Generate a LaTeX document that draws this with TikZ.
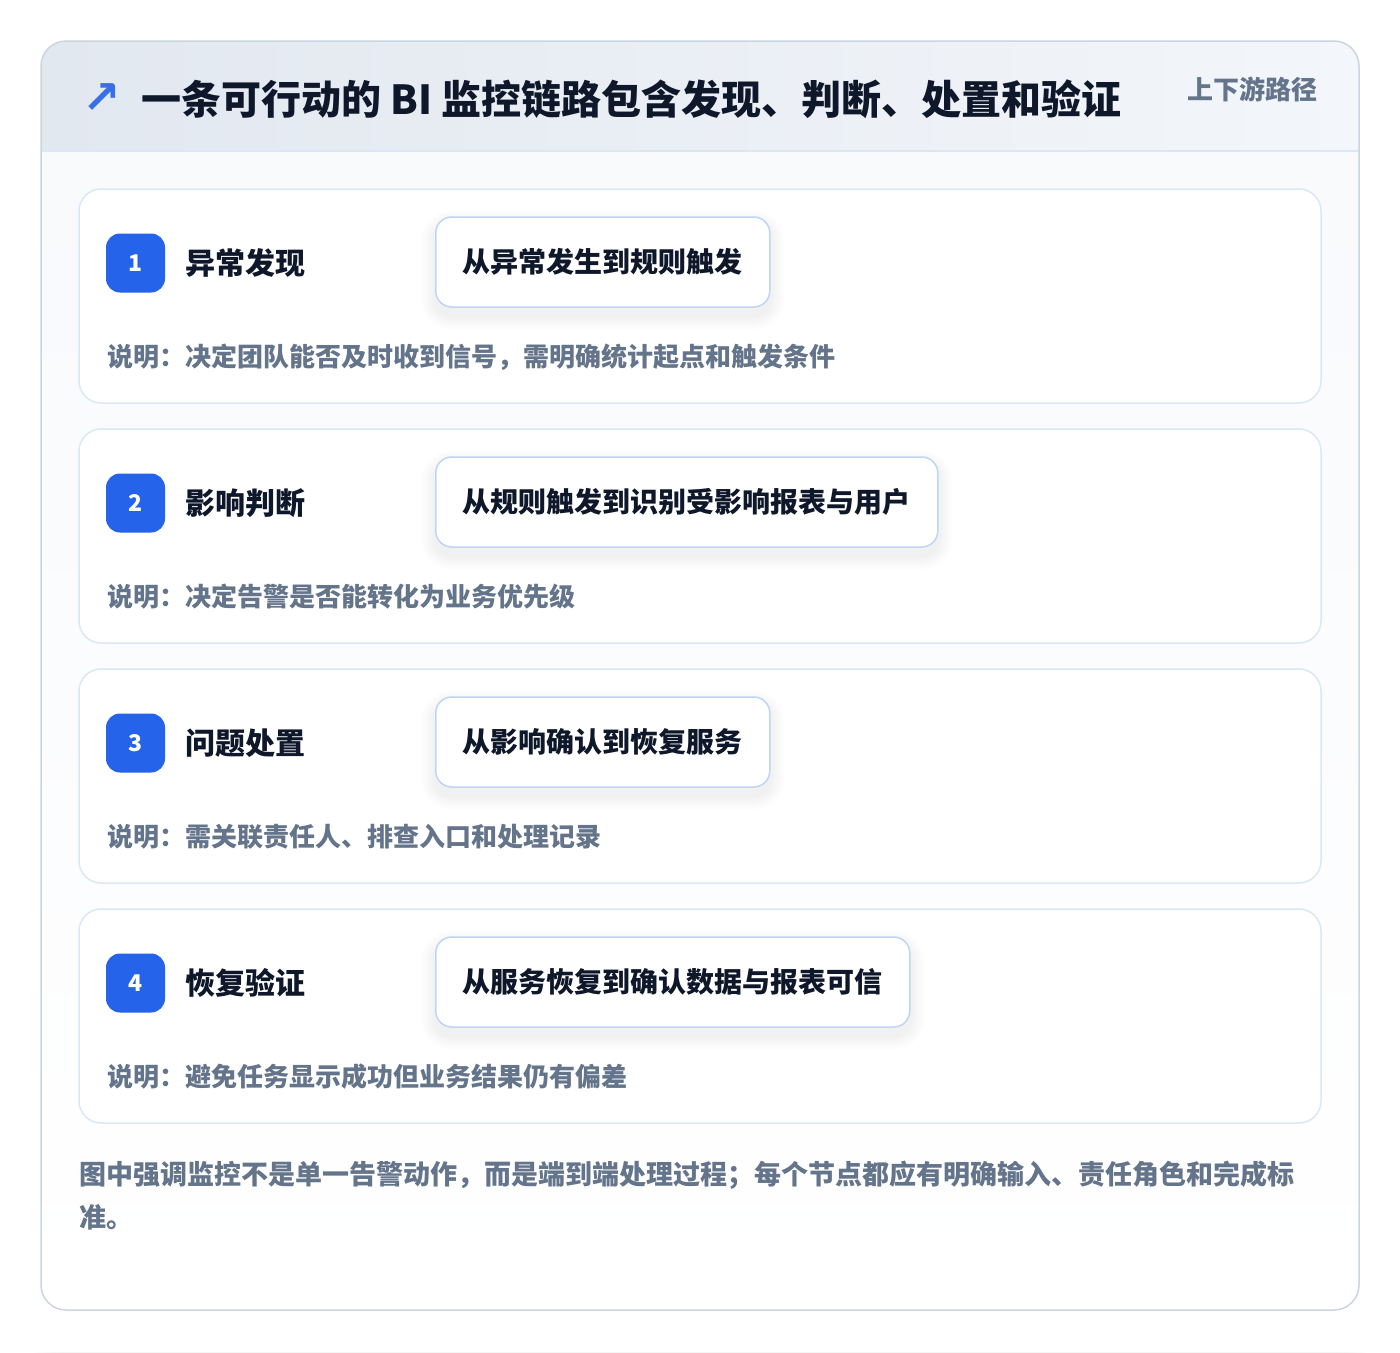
\documentclass[tikz,border=0pt]{standalone}
\usepackage{fontspec}
\setmainfont{Noto Sans CJK SC}
\newfontfamily\symfont{DejaVu Sans}
\definecolor{navy}{HTML}{0F172A}
\definecolor{slate}{HTML}{64748B}
\definecolor{badgeblue}{HTML}{2563EB}
\definecolor{arrowblue}{HTML}{3B6FE8}
\definecolor{cardline}{HTML}{DBE7F7}
\definecolor{subline}{HTML}{BFD6F3}
\definecolor{outerline}{HTML}{CBD5E1}
\definecolor{hdrL}{HTML}{E2E8F0}
\definecolor{hdrR}{HTML}{F3F6FA}
\definecolor{bodybg}{HTML}{F7F9FC}
\pgfdeclarelayer{bg}
\pgfdeclarelayer{fg}
\pgfsetlayers{bg,main,fg}
\tikzset{
 stepcard/.style={draw=cardline, line width=1.5pt, rounded corners=22pt, fill=white},
 badgebox/.style={fill=badgeblue, rounded corners=14pt, minimum size=59pt, inner sep=0pt, text=white, font=\fontsize{23}{23}\selectfont\bfseries},
 steplabel/.style={anchor=west, inner sep=0pt, text=navy, font=\fontsize{30}{30}\selectfont\bfseries},
 subbox/.style={anchor=west, draw=subline, line width=1.5pt, rounded corners=16pt, fill=white, minimum height=90pt, inner xsep=27pt, text=navy, font=\fontsize{28}{28}\selectfont\bfseries},
 desc/.style={anchor=west, inner sep=0pt, text=slate, font=\fontsize{26}{26}\selectfont\bfseries},
 foot/.style={anchor=west, inner sep=0pt, text=slate, font=\fontsize{27}{27}\selectfont\bfseries},
}
\begin{document}
\begin{tikzpicture}[x=1pt,y=-1pt]
\useasboundingbox (0,0) rectangle (1400,1352);
\fill[white] (0,0) rectangle (1400,1352);
% outer shadow
\begin{pgfonlayer}{bg}
\foreach \i in {1,...,36}
  \fill[black,opacity=0.0055,rounded corners={25+\i}] (41-\i,41-\i+16) rectangle (1359+\i,1310+\i+16);
\end{pgfonlayer}
% outer card
\shade[top color=bodybg, bottom color=white, rounded corners=25pt] (41,41) rectangle (1359,1310);
\begin{scope}
 \clip[rounded corners=25pt] (41,41) rectangle (1359,1310);
 \shade[left color=hdrL, right color=hdrR] (41,41) rectangle (1359,151);
\end{scope}
\draw[cardline, line width=1.5pt] (41,151) -- (1359,151);
\draw[outerline, line width=1.5pt, rounded corners=25pt] (41,41) rectangle (1359,1310);
% header
\node[text=arrowblue, inner sep=0pt, font=\symfont\fontsize{46}{46}\selectfont\bfseries] (icon) at (102,99) {↗};
\node[anchor=west, inner sep=0pt, text=navy, font=\fontsize{40}{40}\selectfont\bfseries] (title) at (141,99) {一条可行动的 BI 监控链路包含发现、判断、处置和验证};
\node[anchor=east, inner sep=0pt, text=slate, font=\fontsize{26}{26}\selectfont\bfseries] (tag) at (1318,89) {上下游路径};
% steps
\foreach \n/\top/\lab/\sub/\des in {
 1/189/异常发现/从异常发生到规则触发/说明：决定团队能否及时收到信号，需明确统计起点和触发条件,
 2/429/影响判断/从规则触发到识别受影响报表与用户/说明：决定告警是否能转化为业务优先级,
 3/669/问题处置/从影响确认到恢复服务/说明：需关联责任人、排查入口和处理记录,
 4/909/恢复验证/从服务恢复到确认数据与报表可信/说明：避免任务显示成功但业务结果仍有偏差}{
 \draw[stepcard] (79,\top) rectangle (1321,\top+214);
 \node[badgebox] (b\n) at (135.5,\top+74) {\n};
 \node[steplabel] (l\n) at (185,\top+74) {\lab};
 \begin{pgfonlayer}{fg}
 \node[subbox] (s\n) at (435,\top+73) {\sub};
 \end{pgfonlayer}
 \foreach \i in {1,...,14}
   \fill[black,opacity=0.0035,rounded corners={16+\i}] ([shift={(-\i,-\i+8)}]s\n.north west) rectangle ([shift={(\i,\i+8)}]s\n.south east);
 \node[desc] (d\n) at (107,\top+168) {\des};
}
% footer
\node[foot] (f1) at (79,1175) {图中强调监控不是单一告警动作，而是端到端处理过程；每个节点都应有明确输入、责任角色和完成标};
\node[foot] (f2) at (79,1217) {准。};
\end{tikzpicture}
\end{document}
